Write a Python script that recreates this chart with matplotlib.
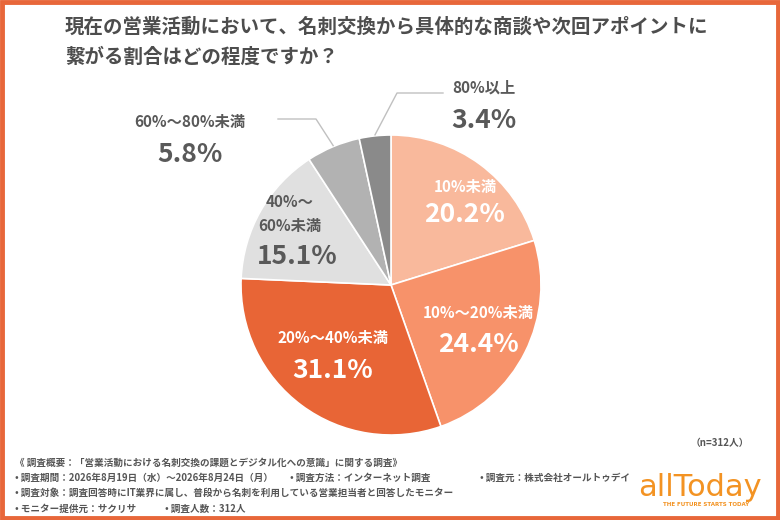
import matplotlib
matplotlib.use("Agg")
import matplotlib.pyplot as plt
from matplotlib.patches import Rectangle
import numpy as np

plt.rcParams['font.family'] = ['Noto Sans CJK JP', 'DejaVu Sans']

title = "現在の営業活動において、名刺交換から具体的な商談や次回アポイントに\n繋がる割合はどの程度ですか？"
categories = ["10%未満", "10%〜20%未満", "20%〜40%未満", "40%〜\n60%未満", "60%〜80%未満", "80%以上"]
values = [20.2, 24.4, 31.1, 15.1, 5.8, 3.4]
colors = ["#F9B99C", "#F7926A", "#E86536", "#E0E0E0", "#B2B2B2", "#8A8A8A"]
value_labels = ["20.2%", "24.4%", "31.1%", "15.1%", "5.8%", "3.4%"]
n_label = "（n=312人）"
footer = [
    ["《 調査概要：「営業活動における名刺交換の課題とデジタル化への意識」に関する調査》"],
    ["• 調査期間：2026年8月19日（水）〜2026年8月24日（月）", "• 調査方法：インターネット調査", "• 調査元：株式会社オールトゥデイ"],
    ["• 調査対象：調査回答時にIT業界に属し、普段から名刺を利用している営業担当者と回答したモニター"],
    ["• モニター提供元：サクリサ", "• 調査人数：312人"],
]

W, H = 780, 520
fig = plt.figure(figsize=(7.8, 5.2), dpi=100)
fig.patch.set_facecolor("white")
ax = fig.add_axes([0, 0, 1, 1])

cx, cy, R = 391, H - 285, 150
wedges, _ = ax.pie(values, colors=colors, startangle=90, counterclock=False,
                   center=(cx, cy), radius=R,
                   wedgeprops=dict(edgecolor="white", linewidth=1.2))
ax.set_xlim(0, W)
ax.set_ylim(0, H)
ax.set_aspect("equal")
ax.axis("off")

dark = "#595959"
white = "white"
inside = [
    (0, 465, 187, 215, white),
    (1, 478, 313, 345, white),
    (2, 333, 338, 370, white),
]
for i, x, y1, y2, c in inside:
    ax.text(x, H - y1, categories[i], ha="center", va="center", fontsize=11, color=c, fontweight="bold")
    ax.text(x, H - y2, value_labels[i], ha="center", va="center", fontsize=19, color=c, fontweight="bold")

ax.text(290, H - 214, categories[3], ha="center", va="center", fontsize=11, color=dark,
        fontweight="bold", linespacing=1.6)
ax.text(297, H - 257, value_labels[3], ha="center", va="center", fontsize=19, color=dark, fontweight="bold")

ax.text(190, H - 122, categories[4], ha="center", va="center", fontsize=11, color=dark, fontweight="bold")
ax.text(190, H - 155, value_labels[4], ha="center", va="center", fontsize=19, color=dark, fontweight="bold")
ax.text(484, H - 88, categories[5], ha="center", va="center", fontsize=11, color=dark, fontweight="bold")
ax.text(484, H - 120, value_labels[5], ha="center", va="center", fontsize=19, color=dark, fontweight="bold")

def mid_pt(w):
    a = np.deg2rad((w.theta1 + w.theta2) / 2)
    return cx + R * np.cos(a), cy + R * np.sin(a)

x0, y0 = mid_pt(wedges[5])
ax.plot([x0, 397, 443], [y0 + 1, H - 93, H - 93], color="#C0C0C0", lw=1)
x0, y0 = mid_pt(wedges[4])
ax.plot([x0, 316, 278], [y0 + 1, H - 119, H - 119], color="#C0C0C0", lw=1)

ax.text(65, H - 42, title, ha="left", va="center", fontsize=14, color="#4D4D4D",
        fontweight="bold", linespacing=1.75)

ax.text(720, H - 443, n_label, ha="center", va="center", fontsize=7, color="#555555", fontweight="bold")

ys = [463, 478, 493, 509]
xs = [[15], [15, 290, 480], [15], [15, 165]]
for row, yy, xrow in zip(footer, ys, xs):
    for s, xx in zip(row, xrow):
        ax.text(xx, H - yy, s, ha="left", va="center", fontsize=6.9, color="#555555", fontweight="bold")

ax.text(700, H - 488, "allToday", ha="center", va="center", fontsize=22, color="#F39323",
        family=["DejaVu Sans"])
ax.text(706, H - 505, "THE FUTURE STARTS TODAY", ha="center", va="center", fontsize=4,
        color="#F39323", fontweight="bold", family=["DejaVu Sans"])

fig.patches.append(Rectangle((0.002, 0.003), 0.996, 0.994, transform=fig.transFigure,
                             fill=False, edgecolor="#E8673A", linewidth=3.5))

fig.savefig("out.png", dpi=100, facecolor="white")
